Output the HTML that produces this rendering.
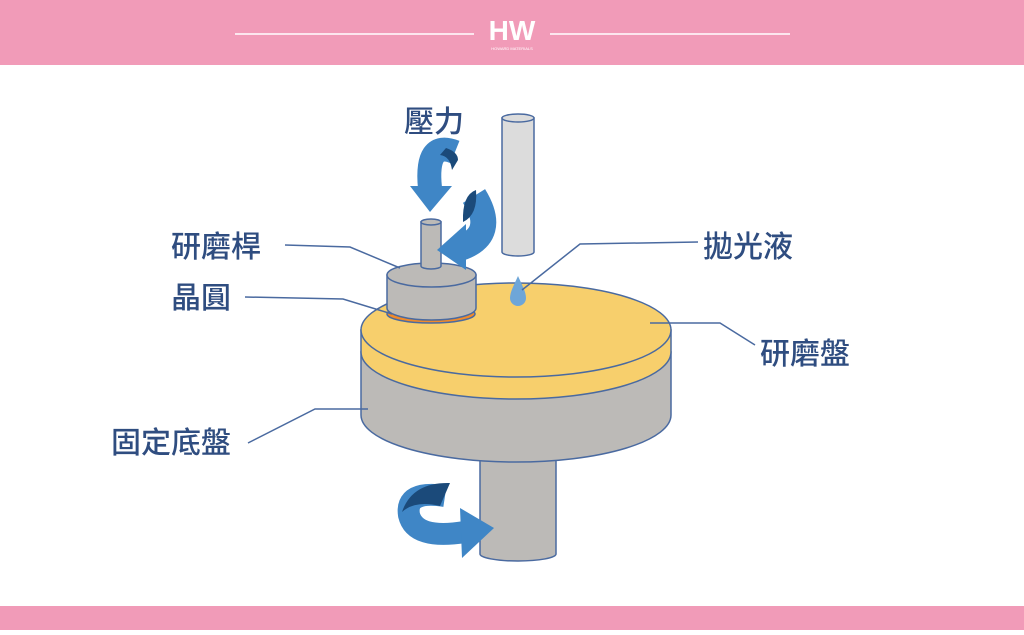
<!DOCTYPE html><html><head><meta charset="utf-8"><style>
body{margin:0;width:1024px;height:630px;overflow:hidden;background:#fff;font-family:"Liberation Sans","Noto Sans CJK TC",sans-serif}
</style></head><body>
<svg width="1024" height="630" viewBox="0 0 1024 630" xmlns="http://www.w3.org/2000/svg">
<rect x="0" y="0" width="1024" height="65" fill="#f19bb8"/>
<rect x="0" y="606" width="1024" height="24" fill="#f19bb8"/>
<line x1="235" y1="34" x2="474" y2="34" stroke="#fff" stroke-width="1.5"/>
<line x1="550" y1="34" x2="790" y2="34" stroke="#fff" stroke-width="1.5"/>
<text x="512" y="40" text-anchor="middle" font-size="28" font-weight="bold" fill="#fff" font-family="Liberation Sans,sans-serif">HW</text>
<text x="512" y="50" text-anchor="middle" font-size="4" fill="#fff">HOWARD MATERIALS</text>

<g stroke="#4a6aa0" stroke-width="1.5">
<path d="M480 440 V554 A38 7 0 0 0 556 554 V440 Z" fill="#bcbab7"/>
<path d="M361 352 V415 A155 47 0 0 0 671 415 V352 Z" fill="#bcbab7"/>
<path d="M361 330 V352 A155 47 0 0 0 671 352 V330 Z" fill="#f7cf6c"/>
<ellipse cx="516" cy="330" rx="155" ry="47" fill="#f7cf6c"/>
<ellipse cx="431" cy="314" rx="44" ry="9" fill="#f08a2a"/>
<path d="M387 275 V308 A44.5 12 0 0 0 476 308 V275 Z" fill="#bcbab7"/>
<ellipse cx="431.5" cy="275" rx="44.5" ry="12" fill="#bcbab7"/>
<path d="M421 222 V266 A10 3 0 0 0 441 266 V222 Z" fill="#bcbab7"/>
<ellipse cx="431" cy="222" rx="10" ry="3" fill="#bcbab7"/>
<path d="M502 118 V252 A16 4 0 0 0 534 252 V118 Z" fill="#dcdcdc"/>
<ellipse cx="518" cy="118" rx="16" ry="4" fill="#dcdcdc"/>
</g>
<path d="M518 276 C514 285 510 292 510 298 A8 8 0 0 0 526 298 C526 292 522 285 518 276Z" fill="#6ea6d8"/>

<path d="M455 152 Q425 140 430 188" stroke="#3f86c6" stroke-width="24" fill="none"/>
<path d="M446 148 Q458 152 458 160 L452 170 Q450 156 440 155Z" fill="#1b4a7a"/>
<polygon points="410,186 452,186 430,212" fill="#3f86c6"/>
<path d="M474 196 Q498 235 460 248" stroke="#3f86c6" stroke-width="26" fill="none"/>
<path d="M476 190 Q462 195 463 222 Q478 215 476 190Z" fill="#1b4a7a"/>
<polygon points="437,250 466,224 466,270" fill="#3f86c6"/>
<path d="M445 496 Q405 490 409 515 Q415 540 465 532" stroke="#3f86c6" stroke-width="22" fill="none"/>
<path d="M450 483 Q412 482 402 512 Q415 500 440 506Z" fill="#1b4a7a"/>
<polygon points="494,528 460,508 462,558" fill="#3f86c6"/>

<g stroke="#4a6aa0" stroke-width="1.5" fill="none">
<polyline points="285,245 350,247 400,268"/>
<polyline points="245,297 343,299 392,314"/>
<polyline points="248,443 315,409 368,409"/>
<polyline points="698,242 580,244 522,290"/>
<polyline points="755,345 720,323 650,323"/>
</g>
<g fill="#2f4d80" font-size="30" font-weight="500" font-family="'Noto Sans CJK TC',sans-serif">
<text x="404" y="132">壓力</text>
<text x="171" y="257">研磨桿</text>
<text x="171" y="308">晶圓</text>
<text x="111" y="453">固定底盤</text>
<text x="703" y="257">拋光液</text>
<text x="760" y="364">研磨盤</text>
</g>
</svg>
</body></html>
